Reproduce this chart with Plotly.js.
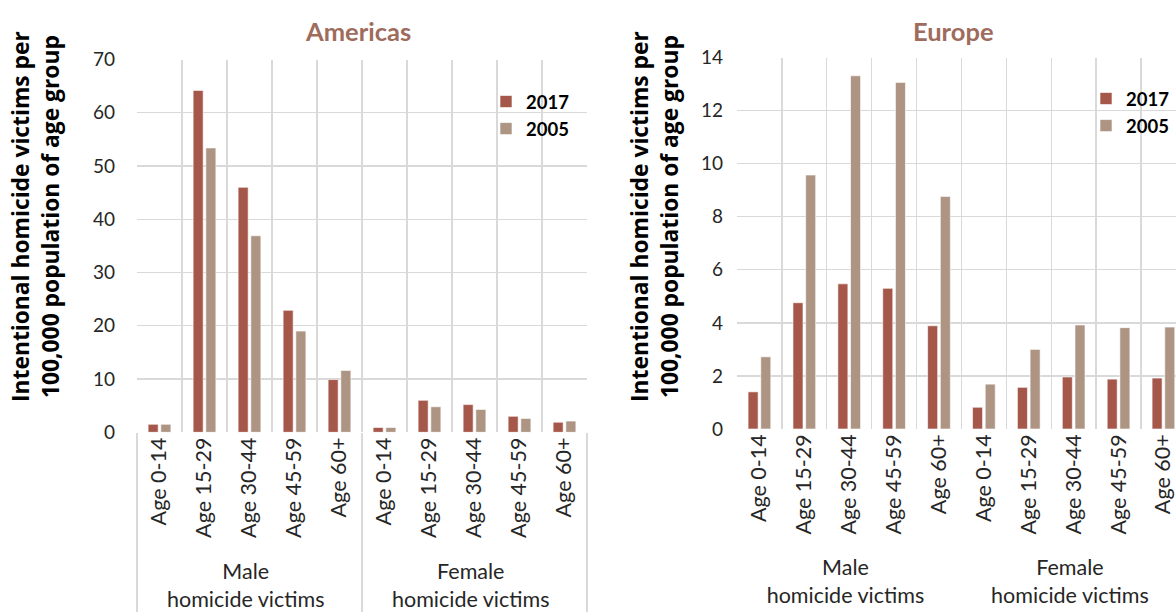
<!DOCTYPE html>
<html>
<head>
<meta charset="utf-8">
<script src="https://cdn.plot.ly/plotly-3.0.1.min.js"></script>
<style>
html,body{margin:0;padding:0;background:#fff;}
#chart{width:1176px;height:612px;}
</style>
</head>
<body>
<div id="chart"></div>
<script>
// ---- data ----
const sexGroups = ["Male<br>homicide victims", "Female<br>homicide victims"];
const ageGroups = ["Age 0-14", "Age 15-29", "Age 30-44", "Age 45-59", "Age 60+"];
const seriesNames = ["2017", "2005"];

const americas2017 = [1.5, 64.2, 46.0, 22.9, 9.9, 0.9, 6.0, 5.2, 3.0, 1.9];
const americas2005 = [1.5, 53.4, 36.9, 19.0, 11.6, 0.9, 4.8, 4.3, 2.6, 2.1];
const europe2017 = [1.40, 4.76, 5.47, 5.30, 3.89, 0.82, 1.57, 1.96, 1.88, 1.92];
const europe2005 = [2.72, 9.57, 13.31, 13.06, 8.76, 1.69, 3.00, 3.92, 3.82, 3.84];

const panelTitles = ["Americas", "Europe"];
const yTitle = "Intentional homicide victims per<br>100,000 population of age group";

// ---- build multicategory x ----
const outer = [], inner = [];
sexGroups.forEach(s => ageGroups.forEach(a => { outer.push(s); inner.push(a); }));
const xCats = [outer, inner];

const colors = {"2017": "#A5574A", "2005": "#AD9483"};
const FONT = "Lato, 'Open Sans', sans-serif";
const TFONT = "'Open Sans', Lato, sans-serif";

function bar(name, y, xa, ya, leg) {
  return {
    type: "bar", name: name, x: xCats, y: y,
    xaxis: xa, yaxis: ya, legend: leg,
    marker: {color: colors[name], line: {color: "#ffffff", width: 0.6}},
    hoverinfo: "y+name"
  };
}

const data = [
  bar(seriesNames[0], americas2017, "x", "y", "legend"),
  bar(seriesNames[1], americas2005, "x", "y", "legend"),
  bar(seriesNames[0], europe2017, "x2", "y2", "legend2"),
  bar(seriesNames[1], europe2005, "x2", "y2", "legend2")
];

const gridC = "#d9d9d9";
const xTickFont = {family: FONT, size: 21.5, color: "#262626"};
const yTickFont = {family: FONT, size: 19, color: "#262626"};

function xAxis(domain, anchor, range, dividers) {
  return {
    domain: domain, anchor: anchor, type: "multicategory",
    range: range, fixedrange: true,
    tickson: "boundaries", ticks: "",
    showgrid: true, gridcolor: gridC, gridwidth: 1.3,
    showline: false, zeroline: false,
    tickangle: -90, tickfont: xTickFont,
    showdividers: dividers, dividercolor: gridC, dividerwidth: 1.5
  };
}
function yAxis(domain, anchor, range, dtick, lblStand) {
  return {
    domain: domain, anchor: anchor, range: range, dtick: dtick,
    showgrid: true, gridcolor: gridC, gridwidth: 1.3,
    zeroline: false, showline: false, ticks: "",
    tickfont: yTickFont, ticklabelstandoff: lblStand
  };
}

const L = 137, W = 1176 - L;
const legFont = {family: FONT, size: 18.5, color: "#000", weight: "bold"};
const yTitleFont = {family: TFONT, size: 22.8, color: "#000000", weight: "bold"};
const panelTitleFont = {family: FONT, size: 25.5, color: "#9E6B5C", weight: "bold"};

function px(x) { return (x - L) / W; }
function py(y) { return 1 - y / 612; }

const layout = {
  width: 1176, height: 612,
  margin: {l: L, r: 0, t: 0, b: 0},
  paper_bgcolor: "#ffffff", plot_bgcolor: "#ffffff",
  font: {family: FONT, color: "#262626"},
  barmode: "group", bargap: 0.435, bargroupgap: 0.21,
  xaxis: xAxis([0, 450 / W], "y", [-0.5, 9.5], true),
  yaxis: yAxis([py(432.3), py(59.5)], "x", [0, 70], 10, 21),
  xaxis2: xAxis([px(737), 1], "y2", [-0.5, 9.28], false),
  yaxis2: yAxis([py(429), py(57.5)], "x2", [0, 14], 2, 13),
  legend: {x: px(486), y: py(83), xanchor: "left", yanchor: "top",
           bgcolor: "rgba(0,0,0,0)", font: legFont},
  legend2: {x: px(1086), y: py(80), xanchor: "left", yanchor: "top",
            bgcolor: "rgba(0,0,0,0)", font: legFont},
  annotations: [
    {text: panelTitles[0], xref: "paper", yref: "paper", x: px(358), y: py(31),
     xanchor: "center", yanchor: "middle", showarrow: false, font: panelTitleFont},
    {text: panelTitles[1], xref: "paper", yref: "paper", x: px(953), y: py(31),
     xanchor: "center", yanchor: "middle", showarrow: false, font: panelTitleFont},
    {text: yTitle, xref: "paper", yref: "paper", x: px(35), y: py(217),
     xanchor: "center", yanchor: "middle", textangle: -90, showarrow: false, font: yTitleFont},
    {text: yTitle, xref: "paper", yref: "paper", x: px(654), y: py(217),
     xanchor: "center", yanchor: "middle", textangle: -90, showarrow: false, font: yTitleFont}
  ],
  showlegend: true
};

Plotly.newPlot("chart", data, layout, {staticPlot: true, displayModeBar: false});
</script>
</body>
</html>
